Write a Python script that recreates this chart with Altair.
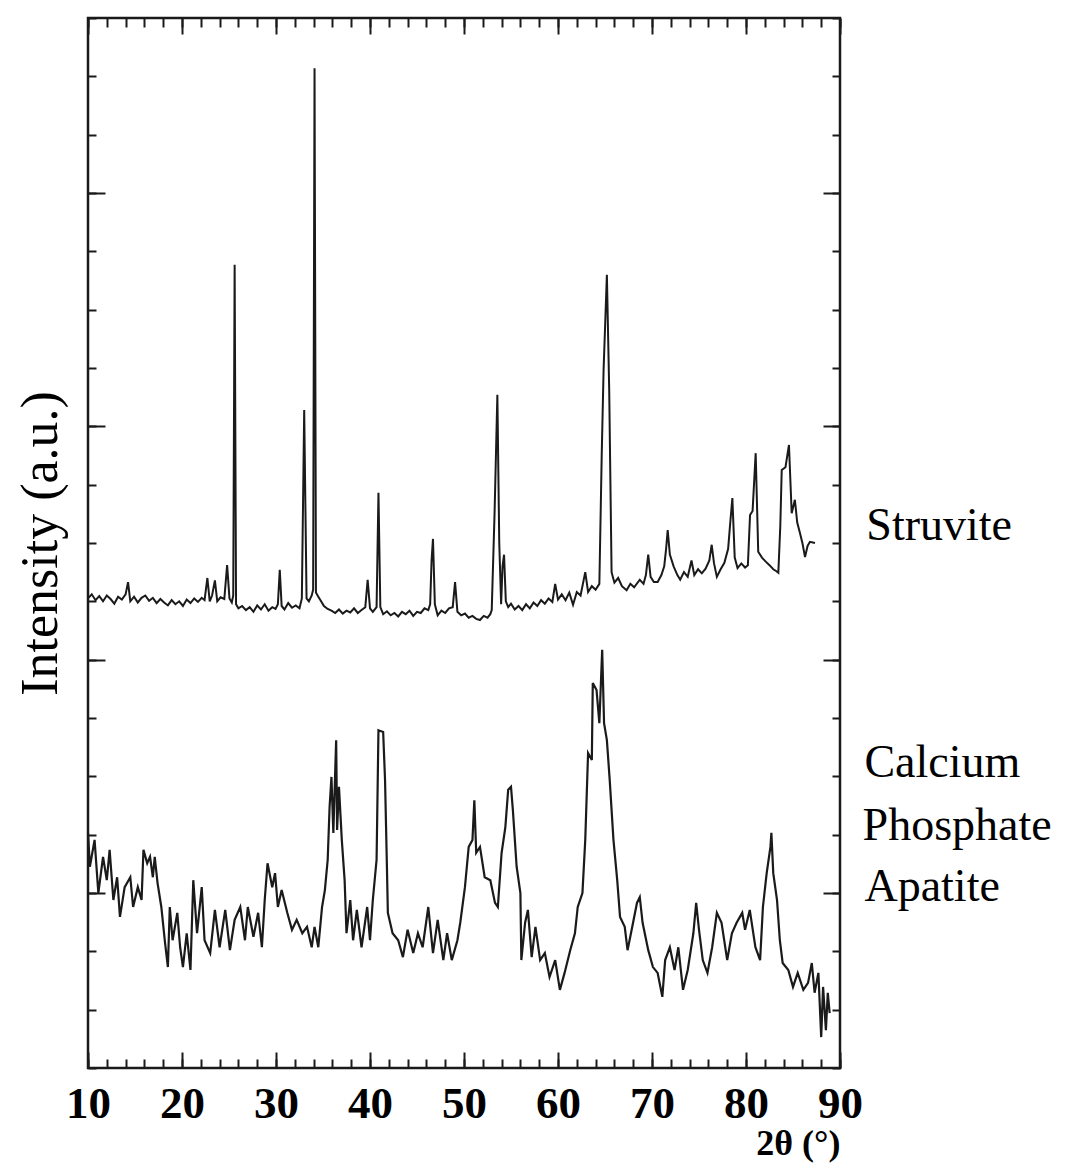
import altair as alt
import pandas as pd

# ---------------- data ----------------
struvite_x = [10.0, 10.4, 10.8, 11.2, 11.6, 12.0, 12.4, 12.8, 13.2, 13.6, 14.0, 14.26, 14.5, 14.9,
              15.3, 15.7, 16.1, 16.5, 16.9, 17.3, 17.7, 18.1, 18.5, 18.9, 19.3, 19.7, 20.1, 20.5,
              20.9, 21.3, 21.7, 22.1, 22.4, 22.7, 22.95, 23.2, 23.5, 23.75, 24.1, 24.5, 24.8, 25.05,
              25.3, 25.45, 25.6, 25.75, 26.0, 26.4, 26.8, 27.2, 27.6, 28.0, 28.4, 28.8, 29.2, 29.6,
              29.95, 30.2, 30.4, 30.6, 30.9, 31.3, 31.7, 32.1, 32.5, 32.75, 33.0, 33.25, 33.5, 33.8,
              33.95, 34.1, 34.25, 34.5, 34.8, 35.1, 35.5, 35.9, 36.3, 36.7, 37.1, 37.5, 37.9, 38.3,
              38.7, 39.1, 39.5, 39.75, 40.0, 40.3, 40.7, 40.9, 41.1, 41.4, 41.8, 42.2, 42.6, 43.0,
              43.4, 43.8, 44.2, 44.6, 45.0, 45.4, 45.8, 46.2, 46.4, 46.55, 46.7, 46.9, 47.2, 47.6,
              48.0, 48.4, 48.8, 49.05, 49.3, 49.7, 50.1, 50.5, 50.9, 51.3, 51.7, 52.1, 52.5, 52.8,
              52.95, 53.25, 53.55, 53.75, 53.95, 54.1, 54.26, 54.45, 54.7, 55.0, 55.4, 55.8, 56.2,
              56.6, 57.0, 57.4, 57.8, 58.2, 58.6, 59.0, 59.4, 59.7, 60.0, 60.4, 60.8, 61.2, 61.6,
              62.0, 62.4, 62.9, 63.2, 63.6, 64.0, 64.4, 64.65, 64.85, 65.2, 65.45, 65.7, 66.0, 66.4,
              66.8, 67.3, 67.7, 68.1, 68.7, 69.1, 69.35, 69.6, 69.85, 70.2, 70.6, 71.0, 71.3, 71.5,
              71.67, 71.9, 72.3, 72.7, 73.0, 73.4, 73.8, 74.2, 74.5, 74.9, 75.3, 75.7, 76.1, 76.35,
              76.6, 76.9, 77.3, 77.7, 78.1, 78.3, 78.55, 78.8, 79.1, 79.5, 79.9, 80.2, 80.43, 80.7,
              81.03, 81.3, 81.7, 82.1, 82.5, 82.9, 83.2, 83.44, 83.65, 83.8, 84.2, 84.57, 84.86,
              85.2, 85.45, 85.74, 86.0, 86.28, 86.55, 86.8, 87.34]
struvite_y = [8.05, 8.12, 8.02, 8.09, 8.00, 8.10, 8.04, 7.96, 8.08, 8.03, 8.12, 8.33, 8.00, 8.08,
              7.98, 8.06, 8.10, 8.01, 8.06, 7.97, 8.04, 7.98, 7.93, 8.02, 7.95, 8.00, 7.92, 8.03,
              7.97, 8.05, 7.99, 8.06, 8.02, 8.40, 8.00, 8.10, 8.36, 8.00, 8.07, 8.04, 8.62, 8.05,
              7.98, 8.10, 13.77, 7.95, 7.88, 7.92, 7.85, 7.90, 7.82, 7.93, 7.86, 7.95, 7.84, 7.90,
              7.87, 7.95, 8.54, 7.92, 7.86, 7.97, 7.89, 7.93, 7.88, 8.05, 11.28, 8.05, 8.00, 8.10,
              8.20, 17.14, 8.15, 8.08, 8.00, 7.92, 7.87, 7.84, 7.80, 7.86, 7.79, 7.84, 7.81, 7.88,
              7.80, 7.85, 7.90, 8.37, 7.88, 7.82, 7.90, 9.86, 7.90, 7.78, 7.83, 7.76, 7.80, 7.74,
              7.82, 7.78, 7.84, 7.75, 7.82, 7.80, 7.88, 7.85, 7.95, 8.70, 9.07, 7.95, 7.76, 7.84,
              7.80, 7.88, 7.90, 8.33, 7.82, 7.76, 7.79, 7.72, 7.75, 7.70, 7.68, 7.75, 7.72, 7.78,
              7.85, 9.50, 11.54, 9.00, 7.95, 8.60, 8.80, 8.00, 7.90, 7.96, 7.86, 7.92, 7.85,
              7.95, 7.88, 7.98, 7.92, 8.02, 7.96, 8.05, 7.99, 8.30, 8.03, 8.12, 8.02, 8.15, 7.94,
              8.16, 8.10, 8.50, 8.16, 8.26, 8.20, 8.30, 10.50, 11.97, 13.60, 11.60, 8.50, 8.32, 8.40,
              8.26, 8.19, 8.30, 8.24, 8.37, 8.30, 8.45, 8.80, 8.42, 8.33, 8.33, 8.45, 8.60, 8.90,
              9.22, 8.80, 8.60, 8.45, 8.37, 8.50, 8.42, 8.70, 8.45, 8.55, 8.48, 8.56, 8.70, 8.97,
              8.65, 8.42, 8.55, 8.66, 8.90, 9.30, 9.77, 8.75, 8.57, 8.65, 8.58, 8.62, 9.48, 9.55,
              10.54, 8.85, 8.75, 8.68, 8.62, 8.55, 8.52, 8.49, 9.30, 10.25, 10.30, 10.68, 9.51,
              9.74, 9.35, 9.17, 9.00, 8.76, 8.95, 9.02, 9.00]

apatite_x = [10.0, 10.2, 10.7, 11.1, 11.6, 12.0, 12.3, 12.7, 13.1, 13.4, 13.9, 14.5, 14.8, 15.3,
             15.7, 15.9, 16.3, 16.6, 16.9, 17.1, 17.4, 17.8, 18.2, 18.5, 18.7, 19.0, 19.5, 19.8,
             20.1, 20.5, 20.9, 21.2, 21.6, 22.1, 22.4, 23.0, 23.5, 24.0, 24.6, 25.1, 25.6, 26.2,
             26.7, 27.0, 27.6, 28.1, 28.5, 28.8, 29.1, 29.6, 29.9, 30.2, 30.6, 31.2, 31.7, 32.2,
             32.8, 33.3, 33.8, 34.1, 34.5, 34.9, 35.2, 35.5, 35.7, 35.9, 36.1, 36.4, 36.5, 36.7,
             37.0, 37.3, 37.5, 37.9, 38.2, 38.6, 39.1, 39.7, 40.0, 40.3, 40.7, 40.9, 41.4, 41.6,
             41.8, 41.9, 42.4, 43.0, 43.5, 44.0, 44.6, 45.1, 45.6, 46.2, 46.7, 47.2, 47.8, 48.2,
             48.7, 49.3, 49.6, 50.1, 50.5, 50.9, 51.1, 51.3, 51.7, 52.2, 52.8, 53.3, 53.6, 54.0,
             54.4, 54.7, 55.0, 55.2, 55.6, 56.0, 56.1, 56.5, 56.8, 57.2, 57.6, 58.1, 58.6, 59.1,
             59.7, 60.2, 60.7, 61.3, 61.8, 62.1, 62.6, 62.9, 63.2, 63.6, 63.7, 64.1, 64.4, 64.7,
             64.9, 65.2, 65.5, 65.9, 66.3, 66.6, 67.1, 67.4, 67.9, 68.4, 68.7, 69.0, 69.6, 70.1,
             70.6, 71.1, 71.4, 71.9, 72.4, 72.8, 73.3, 73.8, 74.4, 74.7, 75.0, 75.4, 75.9, 76.4,
             76.9, 77.4, 78.0, 78.5, 79.0, 79.6, 79.9, 80.4, 81.0, 81.5, 81.8, 82.2, 82.6, 82.7,
             82.9, 83.3, 83.6, 83.9, 84.5, 85.0, 85.5, 86.1, 86.6, 87.0, 87.3, 87.7, 88.0, 88.2,
             88.5, 88.7, 88.9]
apatite_y = [4.03, 3.45, 3.91, 3.00, 3.62, 3.22, 3.74, 2.88, 3.27, 2.59, 3.10, 3.27, 2.76, 3.10,
             2.88, 3.74, 3.51, 3.62, 3.27, 3.62, 3.17, 2.76, 2.14, 1.73, 2.76, 2.19, 2.66, 2.07,
             1.73, 2.31, 1.68, 3.22, 2.31, 3.10, 2.19, 1.97, 2.71, 2.07, 2.71, 2.02, 2.54, 2.76,
             2.19, 2.76, 2.25, 2.66, 2.07, 2.88, 3.51, 3.10, 3.34, 2.76, 3.05, 2.66, 2.37, 2.54,
             2.31, 2.42, 2.07, 2.42, 2.07, 2.76, 3.05, 3.57, 4.47, 4.99, 4.03, 5.62, 4.08, 4.82,
             3.91, 3.22, 2.31, 2.88, 2.19, 2.71, 2.07, 2.76, 2.19, 2.88, 3.57, 5.79, 5.76, 4.94,
             3.45, 2.66, 2.31, 2.19, 1.90, 2.37, 1.97, 2.31, 2.07, 2.76, 1.97, 2.54, 1.85, 2.31,
             1.85, 2.19, 2.49, 3.10, 3.79, 3.91, 4.59, 3.69, 3.79, 3.27, 3.22, 2.83, 2.76, 3.69,
             4.13, 4.77, 4.82, 4.42, 3.45, 3.00, 1.85, 2.49, 2.71, 1.90, 2.42, 1.85, 1.97, 1.56,
             1.85, 1.34, 1.63, 2.02, 2.31, 2.76, 3.00, 3.91, 5.40, 5.28, 6.60, 6.48, 5.91, 7.17,
             5.91, 5.62, 4.94, 3.91, 3.22, 2.59, 2.42, 2.02, 2.42, 2.83, 2.93, 2.49, 2.02, 1.73,
             1.63, 1.22, 1.85, 2.07, 1.68, 2.07, 1.34, 1.68, 2.31, 2.83, 2.37, 1.85, 1.63, 2.07,
             2.66, 2.49, 1.85, 2.31, 2.49, 2.66, 2.37, 2.71, 2.07, 1.85, 2.76, 3.34, 3.79, 4.03,
             3.34, 2.88, 2.19, 1.80, 1.68, 1.39, 1.63, 1.34, 1.46, 1.80, 1.29, 1.63, 0.53, 1.39,
             0.65, 1.29, 0.94]

label_text = ["Struvite", "Calcium", "Phosphate", "Apatite"]
label_x = [92.8, 92.6, 92.4, 92.6]
label_y = [9.29, 5.23, 4.15, 3.10]

x_major = [10, 20, 30, 40, 50, 60, 70, 80, 90]
x_minor = list(range(10, 91, 2))
y_minor = list(range(0, 19))
y_major = [3, 7, 11, 15]

# ---------------- chart ----------------
W, H = 752, 1050
SERIF = "Liberation Serif"
INK = "#1a1a1a"

df_s = pd.DataFrame({"x": struvite_x, "y": struvite_y})
df_a = pd.DataFrame({"x": apatite_x, "y": apatite_y})
df_l = pd.DataFrame({"x": label_x, "y": label_y, "t": label_text})

xs = alt.Scale(domain=[10, 90], nice=False, zero=False)
ys = alt.Scale(domain=[0, 18], nice=False, zero=False)


def tick_axis(orient, offset, values, size):
    return alt.Axis(orient=orient, offset=offset, values=values, tickSize=size,
                    tickWidth=2, tickColor=INK, labels=False, domain=False,
                    grid=False, title=None)


struvite = alt.Chart(df_s).mark_line(color=INK, strokeWidth=2).encode(
    x=alt.X("x:Q", scale=xs, axis=alt.Axis(
        orient="bottom", values=x_major, ticks=False, tickSize=0, domain=False, grid=False,
        labelFont=SERIF, labelFontSize=45, labelFontWeight="bold", labelColor="black",
        labelPadding=13, labelFlush=False, labelOverlap=False,
        title="2θ (°)", titleFont=SERIF, titleFontSize=36, titleFontWeight="bold",
        titleAnchor="end", titlePadding=0, titleColor="black")),
    y=alt.Y("y:Q", scale=ys, axis=alt.Axis(
        orient="left", ticks=False, tickSize=0, labels=False, domain=False, grid=False,
        title="Intensity (a.u.)", titleFont=SERIF, titleFontSize=52,
        titleFontWeight="normal", titlePadding=21, titleColor="black")),
)

apatite = alt.Chart(df_a).mark_line(color=INK, strokeWidth=2.2).encode(
    x=alt.X("x:Q", scale=xs, axis=tick_axis("top", -H, x_minor, 9)),
    y=alt.Y("y:Q", scale=ys, axis=tick_axis("right", -W, y_minor, 8)),
)

labels = alt.Chart(df_l).mark_text(align="left", baseline="middle", font=SERIF,
                                   fontSize=46, color="black").encode(
    x=alt.X("x:Q", scale=xs, axis=tick_axis("top", -H, x_major, 16)),
    y=alt.Y("y:Q", scale=ys, axis=tick_axis("right", -W, y_major, 17)),
    text="t:N",
)

ghost_minor = alt.Chart(df_s).mark_point(opacity=0, size=1).encode(
    x=alt.X("x:Q", scale=xs, axis=tick_axis("bottom", -H, x_minor, 9)),
    y=alt.Y("y:Q", scale=ys, axis=tick_axis("left", -W, y_minor, 8)),
)

ghost_major = alt.Chart(df_s).mark_point(opacity=0, size=1).encode(
    x=alt.X("x:Q", scale=xs, axis=tick_axis("bottom", -H, x_major, 16)),
    y=alt.Y("y:Q", scale=ys, axis=tick_axis("left", -W, y_major, 17)),
)

chart = alt.layer(struvite, apatite, labels, ghost_minor, ghost_major).resolve_axis(
    x="independent", y="independent"
).properties(
    width=W, height=H, autosize="none",
    padding={"left": 80, "top": 10, "right": 226, "bottom": 95},
    background="white",
).configure_view(stroke=INK, strokeWidth=2.5)

chart.save("out.html", embed_options={"renderer": "svg", "actions": False})
